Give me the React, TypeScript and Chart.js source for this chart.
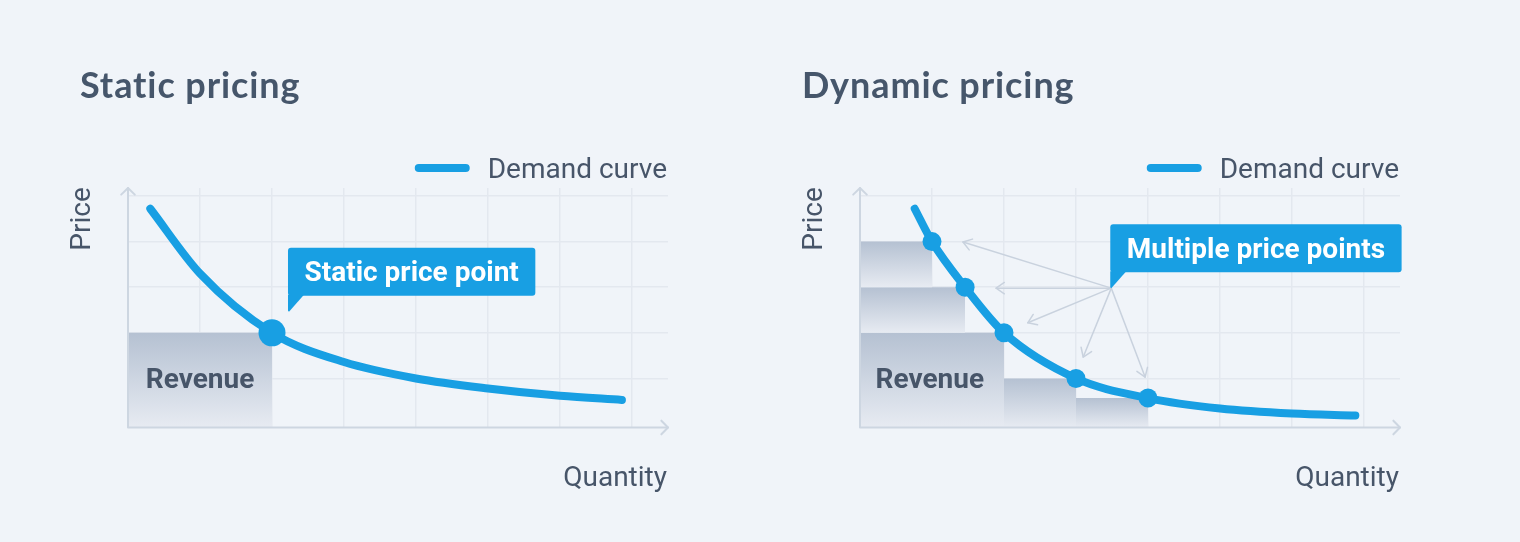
import React, { useEffect, useRef } from "react";
import { Chart, registerables } from "chart.js";

Chart.register(...registerables);

// ---------- data ----------
const xGridTicks = [1, 2, 3, 4, 5, 6, 7];
const yGridTicks = [1, 2, 3, 4, 5];

// Static pricing panel
const staticCurveX = [0.31, 1, 2, 3, 4, 5, 6, 6.86];
const staticCurveY = [4.72, 3.3, 2.0, 1.36, 1.0, 0.78, 0.62, 0.53];
const staticPriceX = [2];
const staticPriceY = [2];
const staticBandStart = [0];
const staticBandEnd = [2];
const staticBandTop = [2];
const staticBandBottom: (number | null)[] = [null];

// Dynamic pricing panel
const dynamicCurveX = [0.76, 1, 1.46, 2, 3, 4, 5, 6, 6.88];
const dynamicCurveY = [4.72, 4.0, 3.0, 2.0, 1.0, 0.57, 0.34, 0.23, 0.19];
const dynamicPriceX = [1, 1.46, 2, 3, 4];
const dynamicPriceY = [4, 3, 2, 1, 0.57];
const dynamicBandStart = [0, 0, 0, 2, 3];
const dynamicBandEnd = [1, 1.46, 2, 3, 4];
const dynamicBandTop = [4, 3, 2, 1, 0.57];
const dynamicBandBottom: (number | null)[] = [3, 2, null, null, null];
const arrowOriginX = 3.49;
const arrowOriginY = 2.98;
const arrowTargetX = [1.43, 1.89, 2.33, 3.1, 3.96];
const arrowTargetY = [3.99, 2.98, 2.22, 1.47, 1.03];

// Texts
const staticTitle = "Static pricing";
const dynamicTitle = "Dynamic pricing";
const legendLabel = "Demand curve";
const yAxisLabel = "Price";
const xAxisLabel = "Quantity";
const revenueLabel = "Revenue";
const staticCallout = "Static price point";
const dynamicCallout = "Multiple price points";

// ---------- styles ----------
const BG = "#f0f4f9";
const BLUE = "#189fe3";
const TEXT = "#475569";
const TITLE = "#46566b";
const AXIS = "#cdd6e1";
const GRID = "#e3e8ef";
const ARROW = "#c9d2de";
const GRAD_TOP = "#b5c1d2";
const GRAD_BOTTOM = "#e7ebf2";

function chevron(ctx: CanvasRenderingContext2D, x: number, y: number, angle: number, len: number, spread: number) {
  ctx.beginPath();
  ctx.moveTo(x + len * Math.cos(angle + Math.PI - spread), y + len * Math.sin(angle + Math.PI - spread));
  ctx.lineTo(x, y);
  ctx.lineTo(x + len * Math.cos(angle + Math.PI + spread), y + len * Math.sin(angle + Math.PI + spread));
  ctx.stroke();
}

const decorPlugin = {
  id: "decor",
  beforeDraw(chart: any) {
    const ctx = chart.ctx;
    ctx.save();
    ctx.fillStyle = BG;
    ctx.fillRect(0, 0, chart.width, chart.height);
    ctx.restore();
  },
  beforeDatasetsDraw(chart: any, _args: any, opts: any) {
    if (!opts.arrows) return;
    const ctx = chart.ctx;
    const xs = chart.scales.x;
    const ys = chart.scales.y;
    const ox = xs.getPixelForValue(opts.arrows.ox);
    const oy = ys.getPixelForValue(opts.arrows.oy);
    ctx.save();
    ctx.strokeStyle = ARROW;
    ctx.lineWidth = 1.5;
    ctx.lineCap = "round";
    ctx.lineJoin = "round";
    opts.arrows.tx.forEach((tvx: number, i: number) => {
      const tx = xs.getPixelForValue(tvx);
      const ty = ys.getPixelForValue(opts.arrows.ty[i]);
      ctx.beginPath();
      ctx.moveTo(ox, oy);
      ctx.lineTo(tx, ty);
      ctx.stroke();
      chevron(ctx, tx, ty, Math.atan2(ty - oy, tx - ox), 10, 0.6);
    });
    ctx.restore();
  },
  afterDatasetsDraw(chart: any) {
    const ctx = chart.ctx;
    const a = chart.chartArea;
    ctx.save();
    ctx.strokeStyle = AXIS;
    ctx.lineWidth = 2;
    ctx.lineCap = "round";
    ctx.lineJoin = "round";
    ctx.beginPath();
    ctx.moveTo(a.left, a.top);
    ctx.lineTo(a.left, a.bottom);
    ctx.lineTo(a.right, a.bottom);
    ctx.stroke();
    chevron(ctx, a.left, a.top, -Math.PI / 2, 9.5, 0.8);
    chevron(ctx, a.right, a.bottom, 0, 9.5, 0.8);
    ctx.restore();
  },
  afterDraw(chart: any, _args: any, opts: any) {
    const ctx = chart.ctx;
    const a = chart.chartArea;
    const xs = chart.scales.x;
    const ys = chart.scales.y;
    ctx.save();
    // title
    ctx.fillStyle = TITLE;
    ctx.font = "bold 36px Lato";
    (ctx as any).letterSpacing = "0.9px";
    ctx.textAlign = "left";
    ctx.textBaseline = "alphabetic";
    ctx.fillText(opts.title, opts.titleX, 97.5);
    (ctx as any).letterSpacing = "0px";

    // legend
    ctx.font = "28px Roboto";
    ctx.fillStyle = TEXT;
    ctx.textAlign = "right";
    const legendRight = a.right - 1;
    ctx.fillText(legendLabel, legendRight, a.top - 10);
    const tw = ctx.measureText(legendLabel).width;
    const textStart = legendRight - tw;
    ctx.strokeStyle = BLUE;
    ctx.lineWidth = 8;
    ctx.lineCap = "round";
    ctx.beginPath();
    ctx.moveTo(textStart - 69, a.top - 20);
    ctx.lineTo(textStart - 22, a.top - 20);
    ctx.stroke();

    // axis labels
    ctx.fillStyle = TEXT;
    ctx.textAlign = "right";
    ctx.fillText(xAxisLabel, a.right - 1, a.bottom + 58.5);
    ctx.save();
    ctx.translate(a.left - 38, a.top + 31);
    ctx.rotate(-Math.PI / 2);
    ctx.textAlign = "center";
    ctx.fillText(yAxisLabel, 0, 0);
    ctx.restore();

    // revenue label
    ctx.font = "bold 28px Roboto";
    ctx.textAlign = "center";
    ctx.fillStyle = TEXT;
    ctx.fillText(revenueLabel, xs.getPixelForValue(opts.revenueX), ys.getPixelForValue(opts.revenueY) + 10);

    // callout
    const tipX = xs.getPixelForValue(opts.callout.x);
    const tipY = ys.getPixelForValue(opts.callout.y);
    ctx.font = "bold 28px Roboto";
    const pad = 16.5;
    const w = ctx.measureText(opts.callout.text).width + pad * 2;
    const h = 48;
    const left = tipX - 1;
    const bottom = tipY - 16;
    const top = bottom - h;
    ctx.fillStyle = BLUE;
    ctx.beginPath();
    (ctx as any).roundRect(left, top, w, h, 3);
    ctx.fill();
    ctx.beginPath();
    ctx.moveTo(left, bottom - 1);
    ctx.lineTo(left, tipY - 1);
    ctx.lineTo(tipX, tipY);
    ctx.lineTo(left + 16, bottom - 1);
    ctx.closePath();
    ctx.fill();
    ctx.fillStyle = "#ffffff";
    ctx.textAlign = "left";
    ctx.fillText(opts.callout.text, left + pad, top + 33.5);
    ctx.restore();
  },
};

function bandGradient(top: number, bottom: number | null) {
  return (c: any) => {
    const chart = c.chart;
    const ca = chart.chartArea;
    if (!ca || !chart.scales.y) return GRAD_TOP;
    const ys = chart.scales.y;
    const t = ys.getPixelForValue(top);
    const b = bottom == null ? ca.bottom : ys.getPixelForValue(bottom);
    const g = chart.ctx.createLinearGradient(0, t, 0, b);
    g.addColorStop(0, GRAD_TOP);
    g.addColorStop(1, GRAD_BOTTOM);
    return g;
  };
}

type PanelProps = {
  title: string;
  titleX: number;
  curveX: number[];
  curveY: number[];
  priceX: number[];
  priceY: number[];
  pointRadius: number;
  bandStart: number[];
  bandEnd: number[];
  bandTop: number[];
  bandBottom: (number | null)[];
  padLeft: number;
  padRight: number;
  revenueX: number;
  revenueY: number;
  callout: { x: number; y: number; text: string };
  arrows?: { ox: number; oy: number; tx: number[]; ty: number[] };
};

function Panel(p: PanelProps) {
  const ref = useRef<HTMLCanvasElement | null>(null);
  useEffect(() => {
    if (!ref.current) return;
    const bands = p.bandTop.map((top, i) => ({
      type: "line" as const,
      data: [
        { x: p.bandStart[i], y: top },
        { x: p.bandEnd[i], y: top },
      ],
      borderColor: "transparent",
      borderWidth: 0,
      pointRadius: 0,
      tension: 0,
      fill: p.bandBottom[i] == null ? "start" : { value: p.bandBottom[i] },
      backgroundColor: bandGradient(top, p.bandBottom[i]),
      order: 5,
    }));
    const chart = new Chart(ref.current, {
      type: "line",
      data: {
        datasets: [
          {
            type: "line",
            label: "Price points",
            data: p.priceX.map((x, i) => ({ x, y: p.priceY[i] })),
            showLine: false,
            pointRadius: p.pointRadius,
            pointBackgroundColor: BLUE,
            pointBorderWidth: 0,
            order: 0,
          },
          {
            type: "line",
            label: legendLabel,
            data: p.curveX.map((x, i) => ({ x, y: p.curveY[i] })),
            borderColor: BLUE,
            borderWidth: 8,
            borderCapStyle: "round",
            cubicInterpolationMode: "monotone",
            pointRadius: 0,
            fill: false,
            order: 1,
          },
          ...bands,
        ] as any,
      },
      options: {
        responsive: false,
        animation: false,
        events: [],
        layout: { padding: { left: p.padLeft, right: p.padRight, top: 188, bottom: 114.5 } },
        plugins: {
          legend: { display: false },
          title: { display: false },
          tooltip: { enabled: false },
          decor: {
            title: p.title,
            titleX: p.titleX,
            revenueX: p.revenueX,
            revenueY: p.revenueY,
            callout: p.callout,
            arrows: p.arrows,
          },
        } as any,
        scales: {
          x: {
            type: "linear",
            min: 0,
            max: 7.5,
            ticks: { display: false },
            border: { display: false },
            grid: { color: GRID, lineWidth: 1.5, drawTicks: false },
            afterBuildTicks: (s: any) => {
              s.ticks = xGridTicks.map((v) => ({ value: v }));
            },
          },
          y: {
            type: "linear",
            min: -0.075,
            max: 5.175,
            ticks: { display: false },
            border: { display: false },
            grid: { color: GRID, lineWidth: 1.5, drawTicks: false },
            afterBuildTicks: (s: any) => {
              s.ticks = yGridTicks.map((v) => ({ value: v }));
            },
          },
        },
      },
      plugins: [decorPlugin],
    });
    return () => chart.destroy();
  }, []);
  return <canvas ref={ref} width={760} height={542} style={{ display: "block", width: 760, height: 542 }} />;
}

export default function App() {
  return (
    <div
      style={{
        position: "fixed",
        left: 0,
        top: 0,
        width: 1520,
        height: 542,
        display: "flex",
        background: BG,
      }}
    >
      <Panel
        title={staticTitle}
        titleX={80}
        curveX={staticCurveX}
        curveY={staticCurveY}
        priceX={staticPriceX}
        priceY={staticPriceY}
        pointRadius={13.5}
        bandStart={staticBandStart}
        bandEnd={staticBandEnd}
        bandTop={staticBandTop}
        bandBottom={staticBandBottom}
        padLeft={128}
        padRight={92}
        revenueX={1}
        revenueY={1.01}
        callout={{ x: 2.236, y: 2.46, text: staticCallout }}
      />
      <Panel
        title={dynamicTitle}
        titleX={42}
        curveX={dynamicCurveX}
        curveY={dynamicCurveY}
        priceX={dynamicPriceX}
        priceY={dynamicPriceY}
        pointRadius={9.5}
        bandStart={dynamicBandStart}
        bandEnd={dynamicBandEnd}
        bandTop={dynamicBandTop}
        bandBottom={dynamicBandBottom}
        padLeft={100}
        padRight={120}
        revenueX={0.97}
        revenueY={1.01}
        callout={{ x: arrowOriginX, y: arrowOriginY, text: dynamicCallout }}
        arrows={{ ox: arrowOriginX, oy: arrowOriginY, tx: arrowTargetX, ty: arrowTargetY }}
      />
    </div>
  );
}
